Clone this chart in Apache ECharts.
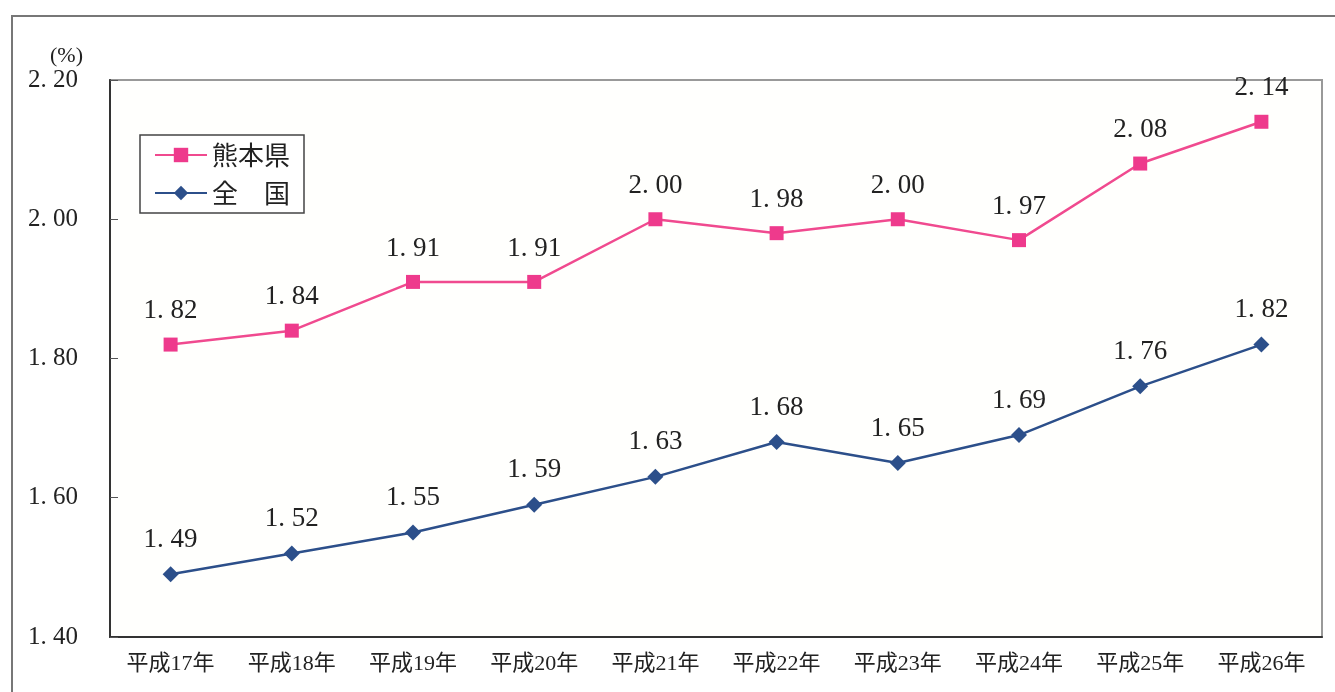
<!DOCTYPE html>
<html>
<head>
<meta charset="utf-8">
<script src="https://cdn.jsdelivr.net/npm/echarts@6/dist/echarts.min.js"></script>
<style>
  html, body { margin: 0; padding: 0; background: #fff; }
  #main { width: 1335px; height: 692px; }
</style>
</head>
<body>
<div id="main"></div>
<script>
// 年次
const years = ['平成17年', '平成18年', '平成19年', '平成20年', '平成21年', '平成22年', '平成23年', '平成24年', '平成25年', '平成26年'];
// 熊本県
const kumamoto = [1.82, 1.84, 1.91, 1.91, 2.00, 1.98, 2.00, 1.97, 2.08, 2.14];
// 全国
const zenkoku = [1.49, 1.52, 1.55, 1.59, 1.63, 1.68, 1.65, 1.69, 1.76, 1.82];

const numFont = '"Liberation Serif", "Noto Sans CJK JP", serif';
// "1.82" -> "1. 82"
const fmt = (v) => v.toFixed(2).replace('.', '. ');

const chart = echarts.init(document.getElementById('main'));
const option = {
  backgroundColor: '#fff',
  animation: false,
  graphic: [
    {
      type: 'rect',
      shape: { x: 12, y: 16, width: 1400, height: 800 },
      style: { fill: 'none', stroke: '#777', lineWidth: 2 },
      z: 0
    }
  ],
  grid: {
    left: 110, right: 13, top: 80, bottom: 55,
    show: true,
    backgroundColor: '#fffffd',
    borderColor: '#999',
    borderWidth: 2
  },
  legend: {
    left: 140, top: 135,
    orient: 'vertical',
    data: ['熊本県', '全　国'],
    borderColor: '#444',
    borderWidth: 1.5,
    backgroundColor: '#fff',
    padding: [7, 14, 7, 14],
    itemWidth: 52,
    itemHeight: 18,
    itemGap: 12,
    textStyle: { fontSize: 26, color: '#222', fontFamily: '"Noto Sans CJK JP", serif' }
  },
  xAxis: {
    type: 'category',
    data: years,
    boundaryGap: true,
    axisLine: { lineStyle: { color: '#333', width: 2 } },
    axisTick: { inside: true, length: 6, lineStyle: { color: '#444' } },
    axisLabel: { fontSize: 22, color: '#222', margin: 16, fontFamily: numFont }
  },
  yAxis: {
    type: 'value',
    min: 1.4, max: 2.2, interval: 0.2,
    name: '(%)',
    nameLocation: 'end',
    nameGap: 12,
    nameTextStyle: { fontSize: 22, color: '#222', align: 'right', padding: [0, 27, 0, 0], fontFamily: numFont },
    axisLine: { show: true, lineStyle: { color: '#333', width: 2 } },
    axisTick: { show: true, inside: true, length: 8, lineStyle: { color: '#555' } },
    splitLine: { show: false },
    axisLabel: { fontSize: 25, color: '#222', margin: 32, fontFamily: numFont, formatter: fmt }
  },
  series: [
    {
      name: '熊本県',
      type: 'line',
      data: kumamoto,
      symbol: 'rect',
      symbolSize: 14,
      lineStyle: { color: '#f04a8f', width: 2.5 },
      itemStyle: { color: '#ee3a8c' },
      label: {
        show: true, position: 'top', distance: 13,
        fontSize: 27, color: '#222', fontFamily: numFont,
        formatter: (p) => fmt(p.value)
      }
    },
    {
      name: '全　国',
      type: 'line',
      data: zenkoku,
      symbol: 'diamond',
      symbolSize: 16,
      lineStyle: { color: '#2c4f8a', width: 2.5 },
      itemStyle: { color: '#2c4f8a' },
      label: {
        show: true, position: 'top', distance: 13,
        fontSize: 27, color: '#222', fontFamily: numFont,
        formatter: (p) => fmt(p.value)
      }
    }
  ]
};
chart.setOption(option);
window.addEventListener('resize', function () {
  chart.resize();
});
</script>
</body>
</html>
